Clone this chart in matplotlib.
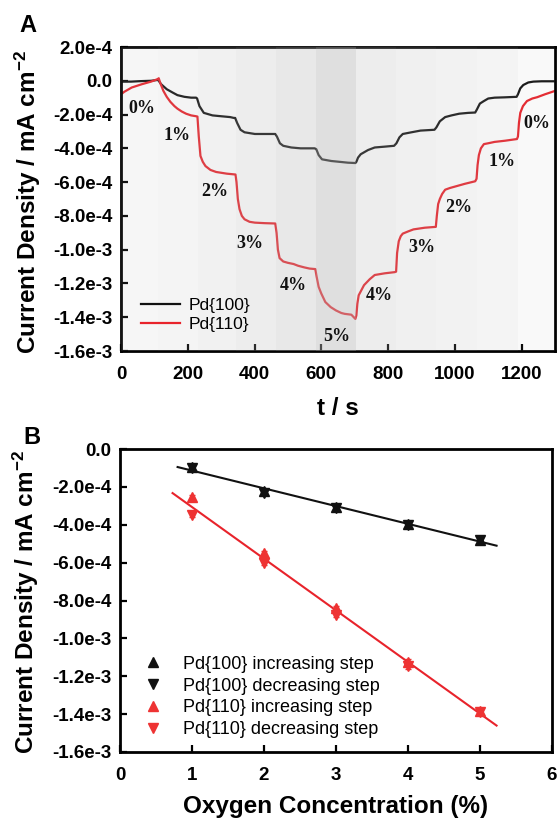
import numpy as np
import matplotlib
matplotlib.use("Agg")
import matplotlib.pyplot as plt

plt.rcParams['font.family'] = ['Liberation Sans', 'DejaVu Sans']
plt.rcParams['mathtext.fontset'] = 'custom'
plt.rcParams['mathtext.rm'] = 'Liberation Sans:bold'
plt.rcParams['mathtext.bf'] = 'Liberation Sans:bold'
plt.rcParams['mathtext.it'] = 'Liberation Sans:bold'
plt.rcParams['axes.unicode_minus'] = False

# ---------------- Panel A data (time series, current density in 1e-4 mA cm^-2) -------------
t_pd100 = [0, 5, 30, 60, 90, 110, 113, 120, 137, 155, 169, 190, 210, 225, 228, 235, 248, 274, 300, 327,
           338, 342, 348, 358, 370, 401, 440, 462, 467, 476, 486, 510, 538, 580, 585, 592, 602, 630, 655,
           680, 702, 705, 710, 718, 740, 760, 790, 818, 825, 834, 844, 870, 897, 939, 945, 955, 971, 990,
           1013, 1040, 1061, 1066, 1075, 1087, 1100, 1119, 1150, 1185, 1189, 1196, 1205, 1220, 1235,
           1260, 1300]
j_pd100 = [-0.1, -0.05, -0.05, -0.02, 0.0, 0.05, 0.0, -0.2, -0.5, -0.7, -0.85, -0.95, -1.0, -1.0, -1.05,
           -1.5, -1.9, -2.05, -2.1, -2.15, -2.2, -2.2, -2.5, -2.9, -3.05, -3.15, -3.15, -3.15, -3.3, -3.7,
           -3.85, -3.95, -4.0, -4.0, -4.05, -4.4, -4.65, -4.75, -4.8, -4.85, -4.87, -4.8, -4.55, -4.35,
           -4.1, -3.95, -3.9, -3.85, -3.7, -3.35, -3.15, -3.05, -2.95, -2.9, -2.75, -2.4, -2.15, -2.05,
           -1.95, -1.9, -1.88, -1.7, -1.35, -1.2, -1.05, -1.0, -0.98, -0.95, -0.8, -0.45, -0.25, -0.1,
           -0.05, -0.03, -0.03]

t_pd110 = [0, 10, 32, 63, 90, 110, 113, 118, 127, 137, 148, 160, 169, 182, 195, 210, 225, 229, 233, 238,
           245, 253, 268, 285, 317, 343, 346, 350, 355, 362, 370, 385, 401, 430, 462, 466, 470, 475, 486,
           500, 517, 530, 549, 565, 582, 586, 592, 600, 612, 628, 644, 660, 670, 690, 702, 705, 708, 712,
           720, 728, 745, 760, 790, 820, 824, 827, 832, 838, 844, 860, 876, 910, 943, 946, 950, 955, 962,
           971, 985, 1003, 1030, 1061, 1065, 1068, 1072, 1078, 1087, 1100, 1119, 1150, 1186, 1189, 1192,
           1196, 1204, 1216, 1232, 1247, 1270, 1300]
j_pd110 = [-0.8, -0.65, -0.4, -0.2, -0.05, 0.1, 0.15, -0.15, -0.6, -0.95, -1.25, -1.5, -1.65, -1.82,
           -1.95, -2.05, -2.1, -2.12, -3.3, -4.45, -4.8, -5.05, -5.28, -5.4, -5.5, -5.55, -6.0, -7.0,
           -7.6, -8.0, -8.2, -8.35, -8.4, -8.43, -8.45, -9.0, -10.0, -10.5, -10.7, -10.78, -10.85,
           -10.95, -11.05, -11.12, -11.15, -11.6, -12.2, -12.6, -13.1, -13.4, -13.6, -13.75, -13.8,
           -13.85, -14.1, -13.9, -13.2, -12.7, -12.4, -12.1, -11.75, -11.5, -11.4, -11.33, -11.3, -10.2,
           -9.5, -9.2, -9.05, -8.92, -8.8, -8.7, -8.65, -8.0, -7.3, -7.0, -6.7, -6.45, -6.35, -6.25,
           -6.1, -5.95, -5.8, -5.0, -4.4, -4.0, -3.75, -3.7, -3.62, -3.55, -3.45, -3.3, -2.5, -1.9,
           -1.5, -1.2, -1.05, -0.97, -0.8, -0.6]

band_edges = [0, 110, 230, 345, 465, 585, 705, 825, 945, 1065, 1188, 1300]
band_labels = ["0%", "1%", "2%", "3%", "4%", "5%", "4%", "3%", "2%", "1%", "0%"]
pct_label_t = [63, 169, 280, 387, 517, 647, 773, 902, 1013, 1140, 1246]
pct_label_j = [-1.65, -3.25, -6.55, -9.63, -12.14, -15.14, -12.74, -9.87, -7.5, -4.75, -2.5]

a_xticks = [0, 200, 400, 600, 800, 1000, 1200]
a_yticks = [2e-4, 0.0, -2e-4, -4e-4, -6e-4, -8e-4, -1.0e-3, -1.2e-3, -1.4e-3, -1.6e-3]
a_yticklabels = ["2.0e-4", "0.0", "-2.0e-4", "-4.0e-4", "-6.0e-4", "-8.0e-4",
                 "-1.0e-3", "-1.2e-3", "-1.4e-3", "-1.6e-3"]

# ---------------- Panel B data ----------------
conc = [1, 2, 3, 4, 5]
pd100_inc = [-0.95e-4, -2.2e-4, -3.05e-4, -3.95e-4, -4.8e-4]
pd100_dec = [-1.0e-4, -2.3e-4, -3.1e-4, -4.0e-4, -4.8e-4]
pd100_err = [0.08e-4, 0.1e-4, 0.12e-4, 0.08e-4, 0.08e-4]
pd110_inc = [-2.55e-4, -5.51e-4, -8.41e-4, -11.23e-4, -13.85e-4]
pd110_dec = [-3.49e-4, -6.04e-4, -8.77e-4, -11.46e-4, -13.9e-4]
pd110_err = [0.1e-4, 0.1e-4, 0.12e-4, 0.15e-4, 0.08e-4]
fit100_range = [0.8, 5.23]
fit110_range = [0.73, 5.23]

b_xticks = [0, 1, 2, 3, 4, 5, 6]
b_yticks = [0.0, -2e-4, -4e-4, -6e-4, -8e-4, -1.0e-3, -1.2e-3, -1.4e-3, -1.6e-3]
b_yticklabels = ["0.0", "-2.0e-4", "-4.0e-4", "-6.0e-4", "-8.0e-4",
                 "-1.0e-3", "-1.2e-3", "-1.4e-3", "-1.6e-3"]

# ---------------- styles ----------------
BLACK = '#111111'
RED = '#e8232b'
RED_MK = '#ee3333'
band_alpha = [0.11, 0.14, 0.19, 0.24, 0.31, 0.43, 0.24, 0.2, 0.17, 0.14, 0.07]
W, H = 558, 825
fig = plt.figure(figsize=(W / 100, H / 100), dpi=100)

TICK_FS = 13.5
LABEL_FS = 17.5


def style_axes(ax):
    for s in ax.spines.values():
        s.set_linewidth(2.0)
    ax.tick_params(axis='both', direction='in', length=5, width=1.6,
                   labelsize=TICK_FS, top=False, right=False)
    ax.tick_params(axis='y', pad=6)
    ax.tick_params(axis='x', pad=11)
    for lab in ax.get_xticklabels() + ax.get_yticklabels():
        lab.set_fontweight('bold')


# ---- Panel A ----
axA = fig.add_axes([121 / W, 1 - 351 / H, 434 / W, 304 / H])
axA.plot(t_pd100, np.array(j_pd100) * 1e-4, color=BLACK, lw=1.6, label='Pd{100}', zorder=2)
axA.plot(t_pd110, np.array(j_pd110) * 1e-4, color=RED, lw=1.6, label='Pd{110}', zorder=2)
for i in range(len(band_edges) - 1):
    axA.axvspan(band_edges[i], band_edges[i + 1], color='#b5b5b5', alpha=band_alpha[i],
                lw=0, zorder=3)
for lab, tt, jj in zip(band_labels, pct_label_t, pct_label_j):
    axA.text(tt, jj * 1e-4, lab, ha='center', va='center', fontsize=13,
             family='Liberation Serif', fontweight='bold', color='#111111', zorder=4)
axA.set_xlim(0, 1300)
axA.set_ylim(-1.6e-3, 2e-4)
axA.set_xticks(a_xticks)
axA.set_yticks(a_yticks)
axA.set_yticklabels(a_yticklabels)
style_axes(axA)
legA = axA.legend(loc='upper left', bbox_to_anchor=(0.047, 0.175), frameon=False, fontsize=12.5,
                  handlelength=2.2, handletextpad=0.5, labelspacing=0.2, borderpad=0,
                  borderaxespad=0)
legA.set_zorder(5)

# ---- Panel B ----
axB = fig.add_axes([120 / W, 1 - 752 / H, 432 / W, 303 / H])
c = np.array(conc, dtype=float)
k100 = np.polyfit(c, (np.array(pd100_inc) + np.array(pd100_dec)) / 2, 1)
k110 = np.polyfit(c, (np.array(pd110_inc) + np.array(pd110_dec)) / 2, 1)
xf100 = np.array(fit100_range)
xf110 = np.array(fit110_range)
axB.plot(xf100, np.polyval(k100, xf100), color=BLACK, lw=1.5, zorder=2)
axB.plot(xf110, np.polyval(k110, xf110), color=RED, lw=1.5, zorder=2)
ms = 6.5
axB.errorbar(c, pd100_inc, yerr=pd100_err, fmt='^', color=BLACK, ms=ms, capsize=2.5, elinewidth=1,
             label='Pd{100} increasing step', zorder=3)
axB.errorbar(c, pd100_dec, yerr=pd100_err, fmt='v', color=BLACK, ms=ms, capsize=2.5, elinewidth=1,
             label='Pd{100} decreasing step', zorder=3)
axB.errorbar(c, pd110_inc, yerr=pd110_err, fmt='^', color=RED_MK, ms=ms, capsize=2.5, elinewidth=1,
             label='Pd{110} increasing step', zorder=3)
axB.errorbar(c, pd110_dec, yerr=pd110_err, fmt='v', color=RED_MK, ms=ms, capsize=2.5, elinewidth=1,
             label='Pd{110} decreasing step', zorder=3)
axB.set_xlim(0, 6)
axB.set_ylim(-1.6e-3, 0)
axB.set_xticks(b_xticks)
axB.set_yticks(b_yticks)
axB.set_yticklabels(b_yticklabels)
style_axes(axB)
handles, labels = axB.get_legend_handles_labels()
handles = [h[0] for h in handles]
axB.legend(handles, labels, loc='upper left', bbox_to_anchor=(0.056, 0.318), frameon=False,
           fontsize=13, handlelength=1.0, handletextpad=1.15, labelspacing=0.27, borderpad=0,
           borderaxespad=0)

# ---- labels ----
fig.text(28 / W, 1 - 25 / H, 'A', fontsize=17, fontweight='bold', ha='center', va='center')
fig.text(32 / W, 1 - 438 / H, 'B', fontsize=17, fontweight='bold', ha='center', va='center')
ylab = 'Current Density / mA cm$^{-2}$'
fig.text(28 / W, 1 - 202 / H, ylab, rotation=90, fontsize=LABEL_FS, fontweight='bold',
         ha='center', va='center')
fig.text(26 / W, 1 - 602 / H, ylab, rotation=90, fontsize=LABEL_FS, fontweight='bold',
         ha='center', va='center')
fig.text(338 / W, 1 - 408 / H, 't / s', fontsize=LABEL_FS, fontweight='bold', ha='center', va='center')
fig.text(336 / W, 1 - 807 / H, 'Oxygen Concentration (%)', fontsize=LABEL_FS, fontweight='bold',
         ha='center', va='center')

fig.savefig('out.png', dpi=100, facecolor='white')
